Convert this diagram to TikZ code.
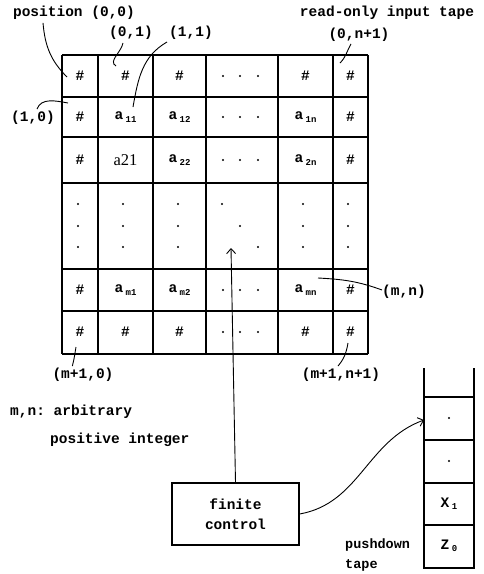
\documentclass[tikz,border=0pt]{standalone}
\usepackage{fontspec}
\setmonofont{Liberation Mono}
\newfontfamily\cellserif{Liberation Serif}
\usetikzlibrary{arrows.meta,positioning}
\newcommand{\lowsub}[1]{\,\raisebox{-0.3ex}{\fontsize{9}{9}\selectfont #1}}
\tikzset{
	gridline/.style={line width=1.6pt},
	cell/.style={font={\ttfamily\bfseries\fontsize{14.5}{15}\selectfont}, inner sep=0pt},
	lab/.style={font={\ttfamily\bfseries\fontsize{14.5}{17}\selectfont}, inner sep=0pt},
	leader/.style={color=black, line width=0.9pt},
	dirleader/.style={->,>={Straight Barb[width=9pt,length=5pt]},line width=0.9pt},
	ctrl/.style={draw,line width=1.2pt,minimum width=127pt,minimum height=62pt,align=center,
		font={\ttfamily\bfseries\fontsize{14.5}{20}\selectfont}}
}
\begin{document}
\begin{tikzpicture}[x=1pt,y=1pt]
	\useasboundingbox (0,0) rectangle (483,-574);
	%%%input tape
	\foreach \x in {62,98,153,206,278,333,368}
		\draw[gridline] (\x,-55) -- (\x,-354);
	\foreach \y in {-55,-97,-137,-183,-269,-311,-354}
		\draw[gridline] (62,\y) -- (368,\y);
	
	\node[cell] (c00) at (80,-76) {\#};
	\node[cell] (c01) at (125.5,-76) {\#};
	\node[cell] (c02) at (179.5,-76) {\#};
	\node[cell] (c04) at (305.5,-76) {\#};
	\node[cell] (c05) at (350.5,-76) {\#};
	
	\node[cell] (c10) at (80,-117) {\#};
	\node[cell] (c11) at (125.5,-117) {a\lowsub{11}};
	\node[cell] (c12) at (179.5,-117) {a\lowsub{12}};
	\node[cell] (c14) at (305.5,-117) {a\lowsub{1n}};
	\node[cell] (c15) at (350.5,-117) {\#};
	
	\node[cell] (c20) at (80,-160) {\#};
	\node[cell,font={\cellserif\fontsize{16.5}{17}\selectfont}] (c21) at (125.5,-160) {a21};
	\node[cell] (c22) at (179.5,-160) {a\lowsub{22}};
	\node[cell] (c24) at (305.5,-160) {a\lowsub{2n}};
	\node[cell] (c25) at (350.5,-160) {\#};
	
	\node[cell] (c40) at (80,-290) {\#};
	\node[cell] (c41) at (125.5,-290) {a\lowsub{m1}};
	\node[cell] (c42) at (179.5,-290) {a\lowsub{m2}};
	\node[cell] (c44) at (305.5,-290) {a\lowsub{mn}};
	\node[cell] (c45) at (350.5,-290) {\#};
	
	\node[cell] (c50) at (80,-332) {\#};
	\node[cell] (c51) at (125.5,-332) {\#};
	\node[cell] (c52) at (179.5,-332) {\#};
	\node[cell] (c54) at (305.5,-332) {\#};
	\node[cell] (c55) at (350.5,-332) {\#};
	
	%%%dots
	\foreach \y in {-76,-117,-160,-290,-332}
		\foreach \x in {223,240,258}
			\fill (\x,\y) circle (1.2pt);
	\foreach \x in {78,123,178,303,348}
		\foreach \y in {-204,-226,-247}
			\fill (\x,\y) circle (1.2pt);
	\fill (222,-204) circle (1.2pt) (240,-226) circle (1.2pt) (258,-247) circle (1.2pt);
	
	%%%labels
	\node[lab] (pos00) at (74,-13) {position (0,0)};
	\node[lab] (l01) at (131,-33) {(0,1)};
	\node[lab] (l11) at (191,-33) {(1,1)};
	\node[lab] (l10) at (33,-118) {(1,0)};
	\node[lab] (intape) at (387,-13) {read-only input tape};
	\node[lab] (l0n1) at (359,-35) {(0,n+1)};
	\node[lab] (lmn) at (404,-292) {(m,n)};
	\node[lab] (lm10) at (83,-375) {(m+1,0)};
	\node[lab] (lm1n1) at (341,-375) {(m+1,n+1)};
	\node[lab,anchor=west] (mn1) at (10,-412) {m,n: arbitrary};
	\node[lab,anchor=west] (mn2) at (50,-440) {positive integer};
	
	\coordinate (p00) at (67,-77);
	\coordinate (p01) at (116,-66);
	\coordinate (p11) at (133,-107);
	\coordinate (p10) at (68,-103);
	\coordinate (p0n1) at (340,-63);
	\coordinate (pmn) at (318,-278);
	\coordinate (pm10) at (76,-347);
	\coordinate (pm1n1) at (348,-343);
	
	\draw[leader] ([xshift=-31pt,yshift=-3pt]pos00.south) to[out=-85,in=135] (p00);
	\draw[leader] ([xshift=-8pt,yshift=-3pt]l01.south) to[out=-100,in=150] (p01);
	\draw[leader] ([xshift=-2pt,yshift=-2pt]l11.south west) to[out=-150,in=80] (p11);
	\draw[leader] ([xshift=4pt,yshift=2pt]l10.north) to[out=70,in=170] (p10);
	\draw[leader] ([xshift=-8pt,yshift=-2pt]l0n1.south) to[out=-120,in=45] (p0n1);
	\draw[leader] ([yshift=2pt]lmn.west) to[out=160,in=-3] (pmn);
	\draw[leader] (pm10) to[out=-100,in=75] ([xshift=20pt,yshift=2pt]lm10.north west);
	\draw[leader] (pm1n1) to[out=-100,in=50] ([xshift=-3pt,yshift=2pt]lm1n1.north);
	
	%%%finite control and pushdown tape
	\node[ctrl] (fc) at (235.5,-514) {finite\\control};
	
	\draw[gridline] (424,-368) -- (424,-568) -- (474,-568) -- (474,-368);
	\foreach \y in {-397,-440,-483,-525}
		\draw[gridline] (424,\y) -- (474,\y);
	\fill (449,-418) circle (1.2pt) (449,-461) circle (1.2pt);
	\node[cell] (x1) at (449,-504) {X\lowsub{1}};
	\node[cell] (z0) at (449,-546) {Z\lowsub{0}};
	\coordinate (top) at (424,-420);
	\node[lab,align=left,anchor=north west,font={\ttfamily\bfseries\fontsize{13.5}{20}\selectfont}] (pdt) at (345,-539) {pushdown\\tape};
	
	\coordinate (mid) at (231,-248);
	\draw[dirleader] (fc.north) -- (mid);
	\draw[dirleader] (fc.east) to[out=10,in=200] (top);
	
\end{tikzpicture}
\end{document}
